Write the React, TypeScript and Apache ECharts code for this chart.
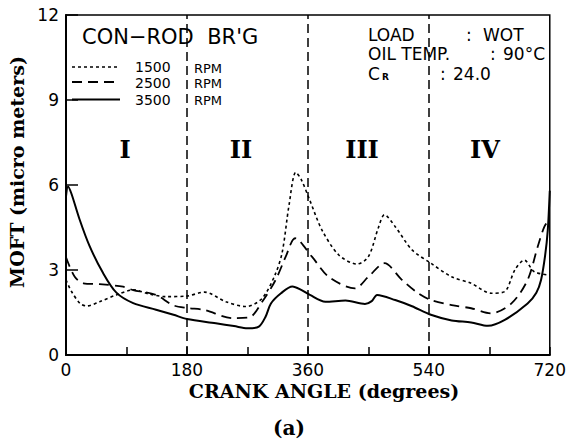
import React, { useEffect, useRef } from "react";
import * as echarts from "echarts";

const xTicks = [0, 180, 360, 540, 720];
const yTicks = [0, 3, 6, 9, 12];
const regionLines = [180, 360, 540];
const regionLabels = ["I", "II", "III", "IV"];

const rpm1500: [number, number][] = [
  [0, 2.65], [8, 2.25], [21, 1.82], [31, 1.73], [50, 1.88], [75, 2.12], [100, 2.3],
  [124, 2.15], [149, 2.06], [180, 2.08], [206, 2.22], [238, 1.88], [268, 1.71],
  [292, 2.0], [312, 2.88], [322, 3.65], [332, 5.3], [342, 6.45], [350, 6.2],
  [363, 5.45], [381, 4.41], [406, 3.53], [433, 3.21], [450, 3.47], [465, 4.5],
  [474, 4.95], [490, 4.53], [515, 3.71], [543, 3.24], [574, 2.76], [603, 2.53],
  [633, 2.18], [653, 2.24], [668, 3.0], [682, 3.35], [697, 2.94], [720, 2.82],
];

const rpm2500: [number, number][] = [
  [0, 3.45], [13, 2.76], [26, 2.53], [50, 2.5], [85, 2.41], [100, 2.29], [134, 2.12],
  [159, 1.76], [180, 1.66], [206, 1.59], [248, 1.3], [273, 1.33], [292, 1.88],
  [312, 2.65], [327, 3.47], [341, 4.12], [366, 3.47], [391, 2.76], [430, 2.35],
  [450, 2.76], [474, 3.24], [500, 2.65], [524, 2.18], [543, 1.94], [574, 1.76],
  [603, 1.65], [633, 1.47], [663, 1.82], [687, 2.65], [702, 3.82], [712, 4.53], [720, 4.8],
];

const rpm3500: [number, number][] = [
  [0, 5.6], [3, 5.95], [8, 5.7], [20, 4.8], [35, 3.85], [55, 2.9], [75, 2.2],
  [100, 1.83], [134, 1.6], [160, 1.42], [180, 1.27], [223, 1.12], [250, 1.02],
  [270, 0.94], [287, 1.0], [297, 1.35], [305, 1.82], [320, 2.18], [337, 2.42],
  [350, 2.3], [363, 2.12], [386, 1.88], [416, 1.92], [445, 1.8], [455, 1.9],
  [463, 2.12], [490, 1.94], [515, 1.72], [543, 1.42], [574, 1.22], [603, 1.15],
  [628, 1.03], [653, 1.24], [687, 1.82], [700, 2.2], [707, 2.65], [713, 3.5],
  [717, 4.4], [720, 5.8],
];

const SANS = "DejaVu Sans";
const SERIF = "DejaVu Serif";

export default function App() {
  const ref = useRef<HTMLDivElement>(null);
  useEffect(() => {
    document.body.style.margin = "0";
    const chart = echarts.init(ref.current!, null, { renderer: "svg" });
    const txt = (text: string, x: number, y: number, size: number, extra: any = {}) => ({
      type: "text",
      x,
      y,
      style: {
        text,
        fontFamily: SANS,
        fontSize: size,
        lineHeight: size,
        fill: "#000",
        verticalAlign: "middle",
        align: "left",
        ...extra,
      },
    });
    const legendLine = (y: number, dash: any, w: number) => ({
      type: "line",
      shape: { x1: 72, y1: y, x2: 120, y2: y },
      style: { stroke: "#000", lineWidth: w, lineDash: dash },
    });
    const roman = { fontFamily: SERIF, fontWeight: "bold", align: "center" };
    chart.setOption({
      animation: false,
      backgroundColor: "#fff",
      grid: {
        left: 66,
        top: 15,
        right: 17,
        bottom: 89,
        show: true,
        borderColor: "#000",
        borderWidth: 1.5,
      },
      xAxis: {
        type: "value",
        min: 0,
        max: 720,
        interval: 90,
        axisLine: { lineStyle: { color: "#000", width: 2 } },
        axisTick: { inside: true, length: 8, lineStyle: { color: "#000", width: 1.5 } },
        axisLabel: {
          color: "#000",
          fontFamily: SANS,
          fontSize: 17,
          margin: 6,
          formatter: (v: number) => (xTicks.includes(v) ? String(v) : ""),
        },
        splitLine: { show: false },
      },
      yAxis: {
        type: "value",
        min: 0,
        max: 12,
        interval: 3,
        axisLine: { show: true, lineStyle: { color: "#000", width: 2 } },
        axisTick: { show: true, inside: true, length: 12, lineStyle: { color: "#000", width: 1.5 } },
        axisLabel: {
          color: "#000",
          fontFamily: SANS,
          fontSize: 17,
          margin: 7,
          formatter: (v: number) => (yTicks.includes(v) ? String(v) : ""),
        },
        splitLine: { show: false },
      },
      series: [
        {
          name: "1500 RPM",
          type: "line",
          data: rpm1500,
          smooth: 0.3,
          symbol: "none",
          lineStyle: { color: "#000", width: 1.6, type: [3, 3] },
          markLine: {
            silent: true,
            symbol: "none",
            label: { show: false },
            lineStyle: { color: "#000", width: 1.5, type: [9, 5] },
            data: regionLines.map((v) => ({ xAxis: v })),
          },
        },
        {
          name: "2500 RPM",
          type: "line",
          data: rpm2500,
          smooth: 0.3,
          symbol: "none",
          lineStyle: { color: "#000", width: 1.8, type: [10, 6] },
        },
        {
          name: "3500 RPM",
          type: "line",
          data: rpm3500,
          smooth: 0.3,
          symbol: "none",
          lineStyle: { color: "#000", width: 2 },
        },
      ],
      graphic: [
        txt("CON−ROD  BR'G", 82, 37, 21),
        legendLine(67, [3, 3], 1.6),
        legendLine(82, [10, 6], 1.8),
        legendLine(99.5, null, 2),
        txt("1500", 135, 67, 14),
        txt("RPM", 194, 68, 13),
        txt("2500", 135, 82.5, 14),
        txt("RPM", 194, 83.5, 13),
        txt("3500", 135, 99.5, 14),
        txt("RPM", 194, 100.5, 13),
        txt("LOAD", 368, 35, 17),
        txt(":", 466, 35, 17),
        txt("WOT", 483, 35, 17),
        txt("OIL TEMP.", 368, 54, 17),
        txt(":", 490, 54, 17),
        txt("90°C", 503, 54, 17),
        txt("C", 368, 74, 17),
        txt("R", 382, 77, 9, { fontWeight: "bold" }),
        txt(":", 440, 74, 17),
        txt("24.0", 453, 74, 17),
        txt(regionLabels[0], 125, 149, 24, roman),
        txt(regionLabels[1], 241, 149, 24, roman),
        txt(regionLabels[2], 362, 149, 24, roman),
        txt(regionLabels[3], 485, 149, 24, roman),
        {
          type: "text",
          x: 17,
          y: 172,
          rotation: Math.PI / 2,
          style: {
            text: "MOFT (micro meters)",
            fontFamily: SERIF,
            fontWeight: "bold",
            fontSize: 19,
            fill: "#000",
            align: "center",
            verticalAlign: "middle",
          },
        },
        txt("CRANK ANGLE (degrees)", 324, 391, 19, { fontFamily: SERIF, fontWeight: "bold", align: "center" }),
        txt("(a)", 289, 428, 20, { fontFamily: SERIF, fontWeight: "bold", align: "center" }),
      ],
    });
    return () => chart.dispose();
  }, []);
  return <div ref={ref} style={{ width: 569, height: 444 }} />;
}
